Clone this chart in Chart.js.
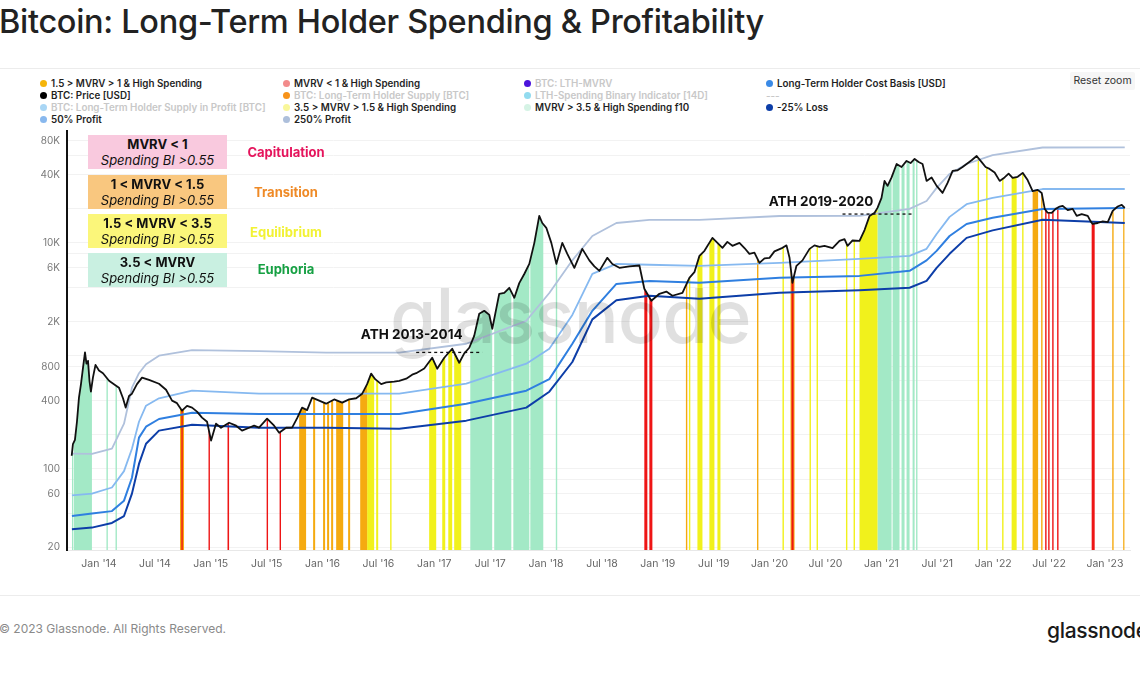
<!DOCTYPE html>
<html>
<head>
<meta charset="utf-8">
<title>Bitcoin: Long-Term Holder Spending & Profitability</title>
<script src="https://cdn.jsdelivr.net/npm/chart.js@4.4.1/dist/chart.umd.min.js"></script>
<style>
  body { margin: 0; background: #fff; font-family: Inter, "Noto Sans", sans-serif; }
  #page { position: relative; width: 1140px; height: 676px; overflow: hidden; background: #fff; }
  #title { position: absolute; left: -1px; top: 2px; font-size: 32.5px; font-weight: 500; color: #222; white-space: nowrap; letter-spacing: -0.3px; }
  .rule { position: absolute; left: 0; width: 1140px; height: 1px; background: #ececec; }
  .lg { position: absolute; font-size: 9.8px; font-weight: 600; color: #1f1f1f; white-space: nowrap; line-height: 12px; }
  .lg i { display: inline-block; width: 7px; height: 7px; border-radius: 50%; margin-right: 4px; }
  .lg.off { color: #c8c8c8; }
  #reset { position: absolute; left: 1070px; top: 72px; width: 65px; height: 18px; line-height: 18px; background: #f6f6f6; border-radius: 2px; font-size: 10.5px; color: #333; text-align: center; }
  #wrap { position: absolute; left: 0; top: 118px; }
  .box { position: absolute; left: 88px; width: 139px; height: 34px; text-align: center; color: #111; font-size: 13px; line-height: 16px; padding-top: 1px; box-sizing: border-box; }
  .box b { display: block; font-weight: 700; }
  .box em { display: block; font-style: italic; font-weight: 400; }
  .phase { position: absolute; left: 226px; width: 120px; text-align: center; font-size: 13px; font-weight: 700; line-height: 16px; }
  #mark { position: absolute; left: 390px; top: 270px; font-size: 75px; font-weight: 500; color: rgba(0,0,0,0.12); letter-spacing: -1px; pointer-events: none; }
  #copy { position: absolute; left: -1px; top: 621px; font-size: 12px; color: #8a8a8a; }
  #logo { position: absolute; left: 1047px; top: 618px; font-size: 21px; color: #1a1a1a; font-weight: 500; letter-spacing: -0.3px; }
</style>
</head>
<body>
<div id="page">
  <div id="title">Bitcoin: Long-Term Holder Spending &amp; Profitability</div>
  <div class="rule" style="top:68px"></div>
  <div id="legend"></div>
  <div id="reset">Reset zoom</div>
  <div id="wrap"><canvas id="chart" width="1140" height="460"></canvas></div>

  <div class="box" style="top:135px;background:#f9c9de"><b>MVRV &lt; 1</b><em>Spending BI &gt;0.55</em></div>
  <div class="box" style="top:175px;background:#f9c77f"><b>1 &lt; MVRV &lt; 1.5</b><em>Spending BI &gt;0.55</em></div>
  <div class="box" style="top:214px;background:#fbf67a"><b>1.5 &lt; MVRV &lt; 3.5</b><em>Spending BI &gt;0.55</em></div>
  <div class="box" style="top:253px;background:#c9f0e1"><b>3.5 &lt; MVRV</b><em>Spending BI &gt;0.55</em></div>
  <div class="phase" style="top:144px;color:#e5145c">Capitulation</div>
  <div class="phase" style="top:184px;color:#ef8a26">Transition</div>
  <div class="phase" style="top:224px;color:#f2f234">Equilibrium</div>
  <div class="phase" style="top:261px;color:#16a043">Euphoria</div>

  <div id="mark">glassnode</div>
  <div class="rule" style="top:595px"></div>
  <div id="copy">© 2023 Glassnode. All Rights Reserved.</div>
  <div id="logo">glassnode</div>
</div>
<script>
// ---- legend ----
const legendNames = [
  '1.5 > MVRV > 1 & High Spending', 'MVRV < 1 & High Spending', 'BTC: LTH-MVRV', 'Long-Term Holder Cost Basis [USD]',
  'BTC: Price [USD]', 'BTC: Long-Term Holder Supply [BTC]', 'LTH-Spending Binary Indicator [14D]', '---',
  'BTC: Long-Term Holder Supply in Profit [BTC]', '3.5 > MVRV > 1.5 & High Spending', 'MVRV > 3.5 & High Spending f10', '-25% Loss',
  '50% Profit', '250% Profit'
];
const legendColors = [
  '#f5b50a', '#f28b8b', '#4b14dc', '#3a8ae6',
  '#000000', '#f7931a', '#92dbef', null,
  '#a9d6f5', '#f9f79a', '#d5f3e5', '#0d3ea8',
  '#88b8ee', '#adbfdb'
];
const legendOn = [
  true, true, false, true,
  true, false, false, false,
  false, true, true, true,
  true, true
];

// ---- x axis (decimal years) ----
const tickYears = [2014, 2014.5, 2015, 2015.5, 2016, 2016.5, 2017, 2017.5, 2018, 2018.5,
  2019, 2019.5, 2020, 2020.5, 2021, 2021.5, 2022, 2022.5, 2023];
const tickLabels = ["Jan '14", "Jul '14", "Jan '15", "Jul '15", "Jan '16", "Jul '16", "Jan '17", "Jul '17",
  "Jan '18", "Jul '18", "Jan '19", "Jul '19", "Jan '20", "Jul '20", "Jan '21", "Jul '21", "Jan '22", "Jul '22", "Jan '23"];

// ---- y axis (log) ----
const yGrid = [20, 40, 60, 80, 100, 200, 400, 600, 800, 1000, 2000, 4000, 6000, 8000, 10000, 20000, 40000, 60000, 80000];
const yTickValues = [20, 60, 100, 400, 800, 2000, 6000, 10000, 40000, 80000];
const yTickLabels = ['20', '60', '100', '400', '800', '2K', '6K', '10K', '40K', '80K'];

// ---- BTC price ----
const priceT = [2013.756, 2013.767, 2013.785, 2013.803, 2013.821, 2013.839, 2013.857, 2013.875, 2013.888, 2013.902,
  2013.915, 2013.928, 2013.946, 2013.969, 2014.000, 2014.036, 2014.090, 2014.134, 2014.179, 2014.215,
  2014.239, 2014.269, 2014.295, 2014.340, 2014.385, 2014.448, 2014.537, 2014.600, 2014.654, 2014.698,
  2014.743, 2014.788, 2014.833, 2014.877, 2014.922, 2014.967, 2015.003, 2015.047, 2015.092, 2015.164,
  2015.227, 2015.280, 2015.343, 2015.388, 2015.432, 2015.504, 2015.567, 2015.612, 2015.674, 2015.728,
  2015.773, 2015.817, 2015.862, 2015.907, 2015.970, 2016.032, 2016.104, 2016.176, 2016.238, 2016.301,
  2016.355, 2016.399, 2016.435, 2016.471, 2016.525, 2016.570, 2016.641, 2016.686, 2016.749, 2016.802,
  2016.838, 2016.910, 2016.981, 2017.026, 2017.089, 2017.160, 2017.223, 2017.268, 2017.313, 2017.357,
  2017.402, 2017.447, 2017.492, 2017.519, 2017.554, 2017.581, 2017.626, 2017.671, 2017.716, 2017.760,
  2017.805, 2017.850, 2017.895, 2017.939, 2017.966, 2018.002, 2018.047, 2018.092, 2018.145, 2018.190,
  2018.253, 2018.324, 2018.387, 2018.432, 2018.477, 2018.548, 2018.593, 2018.656, 2018.745, 2018.835,
  2018.879, 2018.942, 2019.014, 2019.076, 2019.130, 2019.220, 2019.282, 2019.327, 2019.372, 2019.417,
  2019.488, 2019.533, 2019.578, 2019.622, 2019.667, 2019.730, 2019.775, 2019.819, 2019.864, 2019.909,
  2019.954, 2019.999, 2020.043, 2020.115, 2020.151, 2020.178, 2020.204, 2020.240, 2020.294, 2020.357,
  2020.401, 2020.446, 2020.491, 2020.563, 2020.625, 2020.670, 2020.697, 2020.742, 2020.804, 2020.849,
  2020.894, 2020.939, 2020.965, 2021.001, 2021.028, 2021.055, 2021.091, 2021.136, 2021.180, 2021.225,
  2021.261, 2021.297, 2021.333, 2021.368, 2021.404, 2021.449, 2021.494, 2021.547, 2021.592, 2021.637,
  2021.682, 2021.726, 2021.762, 2021.807, 2021.852, 2021.897, 2021.932, 2021.968, 2022.013, 2022.058,
  2022.102, 2022.138, 2022.174, 2022.219, 2022.264, 2022.308, 2022.353, 2022.398, 2022.434, 2022.461,
  2022.487, 2022.523, 2022.559, 2022.595, 2022.622, 2022.667, 2022.711, 2022.747, 2022.792, 2022.846,
  2022.872, 2022.890, 2022.935, 2022.980, 2023.025, 2023.069, 2023.114, 2023.150, 2023.177];
const priceUsd = [130, 165, 180, 260, 425, 560, 780, 1070, 850, 900,
  600, 480, 640, 830, 740, 700, 600, 560, 521, 420,
  347, 440, 461, 560, 640, 610, 565, 500, 400, 380,
  326, 360, 347, 320, 283, 260, 177, 250, 230, 255,
  240, 217, 230, 240, 231, 277, 240, 208, 230, 231,
  280, 347, 330, 425, 400, 376, 410, 384, 410, 420,
  461, 560, 694, 620, 560, 580, 590, 600, 626, 680,
  700, 770, 960, 767, 960, 1153, 867, 1050, 1177, 1500,
  2355, 2500, 2300, 1735, 2600, 3540, 3600, 4000, 3260, 4400,
  5300, 6510, 10000, 17340, 15000, 13600, 10000, 6510, 10000, 8000,
  6010, 8850, 7000, 6200, 5650, 7370, 6500, 6010, 6200, 6300,
  3920, 3070, 3540, 3700, 3400, 3610, 4900, 5500, 7670, 8500,
  11070, 10000, 9040, 10200, 9420, 10000, 9000, 8000, 8200, 6650,
  7300, 7370, 8400, 9040, 9500, 7370, 4430, 6260, 7000, 8850,
  9500, 9200, 9400, 9000, 10420, 10800, 9420, 10500, 10420, 13000,
  17340, 18500, 20420, 25000, 35400, 32000, 38000, 50000, 47000, 53200,
  51000, 55400, 52000, 50000, 35400, 38000, 32000, 27700, 34000, 43400,
  44000, 47000, 50000, 54000, 58900, 52000, 47000, 45200, 42000, 35400,
  38000, 41000, 37600, 38500, 41700, 36000, 28800, 29500, 27700, 20000,
  18500, 18460, 20000, 21000, 21300, 19500, 20000, 17340, 18000, 17340,
  15500, 14700, 15000, 15500, 15300, 19200, 21000, 21700, 20400];

// ---- LTH cost basis bands ----
const bandT = [2013.758, 2013.937, 2014.116, 2014.224, 2014.295, 2014.358, 2014.421, 2014.537, 2014.833, 2015.432,
  2016.032, 2016.686, 2017.286, 2017.823, 2018.029, 2018.235, 2018.414, 2018.629, 2018.924, 2019.372,
  2020.088, 2020.804, 2021.252, 2021.404, 2021.494, 2021.610, 2021.762, 2021.995, 2022.442, 2023.177];
const profit250 = [136, 135, 150, 250, 521, 700, 840, 1000, 1120, 1100,
  1065, 1065, 1277, 2040, 3600, 7000, 11500, 15000, 16000, 16000,
  17300, 17340, 20000, 23500, 30700, 40800, 50000, 60000, 70000, 70300];
const profit50 = [58, 60, 68, 95, 150, 260, 361, 420, 490, 461,
  461, 461, 565, 850, 1153, 2300, 5320, 6510, 6400, 6260,
  6650, 7200, 7670, 8850, 12000, 17000, 22000, 25000, 30000, 30000];
const costBasis = [38, 40, 42, 52, 83, 188, 235, 275, 313, 305,
  305, 305, 376, 490, 620, 1277, 2500, 4330, 4600, 4430,
  4900, 5100, 5650, 7000, 8490, 11500, 14700, 16700, 20000, 20400];
const loss25 = [29, 30, 33, 38, 60, 110, 166, 217, 245, 230,
  230, 226, 266, 347, 480, 880, 2100, 3100, 3400, 3200,
  3610, 3800, 4000, 4600, 6010, 8000, 11070, 12900, 16000, 15000];

// ---- high spending periods [start, end] by MVRV regime ----
const euphoriaSpans = [[2013.758, 2013.767], [2013.776, 2013.937], [2014.067, 2014.076], [2014.148, 2014.157],
  [2017.322, 2017.518], [2017.536, 2017.689], [2017.707, 2017.850], [2017.859, 2017.975], [2018.087, 2018.096],
  [2020.965, 2021.091], [2021.100, 2021.162], [2021.180, 2021.207], [2021.225, 2021.252], [2021.279, 2021.297],
  [2021.310, 2021.319]];
const equilibriumSpans = [[2016.399, 2016.462], [2016.480, 2016.498], [2016.605, 2016.614], [2016.954, 2017.017],
  [2017.071, 2017.098], [2017.125, 2017.160], [2017.178, 2017.241], [2019.278, 2019.287], [2019.354, 2019.399],
  [2019.461, 2019.506], [2019.533, 2019.560], [2020.115, 2020.124], [2020.357, 2020.366], [2020.420, 2020.429],
  [2020.683, 2020.692], [2020.751, 2020.760], [2020.804, 2020.965], [2021.861, 2021.870], [2021.937, 2021.946],
  [2022.080, 2022.089], [2022.165, 2022.210], [2022.259, 2022.268]];
const transitionSpans = [[2014.725, 2014.761], [2015.791, 2015.853], [2015.916, 2015.934], [2016.005, 2016.023],
  [2016.041, 2016.059], [2016.077, 2016.095], [2016.122, 2016.185], [2016.229, 2016.247], [2016.337, 2016.399],
  [2019.251, 2019.260], [2019.887, 2019.896], [2020.187, 2020.223], [2022.353, 2022.402], [2022.429, 2022.438],
  [2023.065, 2023.074], [2023.163, 2023.172]];
const capitulationSpans = [[2014.737, 2014.749], [2014.980, 2014.989], [2015.150, 2015.164], [2015.500, 2015.509],
  [2015.616, 2015.625], [2018.879, 2018.906], [2018.924, 2018.951], [2020.196, 2020.214], [2022.465, 2022.474],
  [2022.492, 2022.501], [2022.528, 2022.537], [2022.572, 2022.581], [2022.881, 2022.908]];

// ---- previous ATH marks ----
const athLabels = ['ATH 2013-2014', 'ATH 2019-2020'];
const athLevels = [1070, 18000];
const athStart = [2016.838, 2020.652];
const athEnd = [2017.429, 2021.279];
const athLabelAt = [2016.798, 2020.460];


// build the legend
const legend = document.getElementById('legend');
const colX = [40, 283, 524, 766];
legendNames.forEach((name, i) => {
  const el = document.createElement('div');
  el.className = 'lg' + (legendOn[i] ? '' : ' off');
  el.style.left = colX[i % 4] + 'px';
  el.style.top = (78 + Math.floor(i / 4) * 12) + 'px';
  if (legendColors[i]) {
    const dot = document.createElement('i');
    dot.style.background = legendColors[i];
    el.appendChild(dot);
  }
  el.appendChild(document.createTextNode(name));
  legend.appendChild(el);
});

const pts = (xs, ys) => xs.map((x, i) => ({ x: x, y: ys[i] }));

// signal columns: drawn from the bottom up to the price line
const signalGroups = [
  { color: '#a3e9c6', spans: euphoriaSpans },
  { color: '#f1f11c', spans: equilibriumSpans },
  { color: '#f5aa10', spans: transitionSpans },
  { color: '#ee1515', spans: capitulationSpans }
];

const signalPlugin = {
  id: 'signals',
  beforeDatasetsDraw(chart) {
    const { ctx, chartArea: a, scales: { x } } = chart;
    const p = chart.getDatasetMeta(0).data;
    ctx.save();
    ctx.beginPath();
    ctx.moveTo(p[0].x, a.bottom);
    p.forEach(pt => ctx.lineTo(pt.x, pt.y));
    ctx.lineTo(p[p.length - 1].x, a.bottom);
    ctx.closePath();
    ctx.clip();
    signalGroups.forEach(g => {
      ctx.fillStyle = g.color;
      g.spans.forEach(s => {
        const x0 = x.getPixelForValue(s[0]);
        const x1 = x.getPixelForValue(s[1]);
        ctx.fillRect(x0, a.top, Math.max(x1 - x0, 1.4), a.bottom - a.top);
      });
    });
    ctx.restore();
  }
};

const athDy = [-17, -12];
const athPlugin = {
  id: 'athText',
  afterDatasetsDraw(chart) {
    const { ctx, scales: { x, y } } = chart;
    ctx.save();
    ctx.font = '700 13.5px Inter, sans-serif';
    ctx.fillStyle = '#111';
    ctx.textAlign = 'center';
    ctx.textBaseline = 'middle';
    athLabels.forEach((t, i) => {
      ctx.fillText(t, x.getPixelForValue(athLabelAt[i]), y.getPixelForValue(athLevels[i]) + athDy[i]);
    });
    ctx.restore();
  }
};

const line = (label, data, color, width) => ({
  label: label, data: data, borderColor: color, borderWidth: width,
  pointRadius: 0, tension: 0, fill: false, borderJoinStyle: 'round'
});

const athSets = athLabels.map((l, i) => Object.assign(
  line(l, [{ x: athStart[i], y: athLevels[i] }, { x: athEnd[i], y: athLevels[i] }], '#111', 1.3),
  { borderDash: [3, 3] }));

Chart.defaults.font.family = 'Inter, "Noto Sans", sans-serif';

new Chart(document.getElementById('chart').getContext('2d'), {
  type: 'line',
  data: {
    datasets: [
      line('BTC: Price [USD]', pts(priceT, priceUsd), '#111111', 1.8),
      athSets[0],
      athSets[1],
      line('-25% Loss', pts(bandT, loss25), '#0d3ea8', 2),
      line('Long-Term Holder Cost Basis [USD]', pts(bandT, costBasis), '#2f7fe0', 2),
      line('50% Profit', pts(bandT, profit50), '#86b9f0', 1.8),
      line('250% Profit', pts(bandT, profit250), '#b0c1dc', 1.8)
    ]
  },
  options: {
    responsive: false,
    animation: false,
    devicePixelRatio: 1,
    layout: { padding: { top: 4, right: 10, left: 0, bottom: 0 } },
    plugins: { legend: { display: false }, tooltip: { enabled: false } },
    scales: {
      x: {
        type: 'linear',
        min: 2013.714,
        max: 2023.224,
        afterBuildTicks: s => { s.ticks = tickYears.map(v => ({ value: v })); },
        afterFit: s => { s.height = 28; },
        ticks: {
          autoSkip: false, maxRotation: 0, minRotation: 0, padding: 8,
          color: '#666', font: { size: 10.5 },
          callback: (v, i) => tickLabels[i]
        },
        grid: { display: false, drawTicks: false },
        border: { display: true, color: '#e8e8e8', width: 1 }
      },
      y: {
        type: 'logarithmic',
        min: 19,
        max: 98000,
        afterBuildTicks: s => { s.ticks = yGrid.map(v => ({ value: v })); },
        afterFit: s => { s.width = 67; },
        ticks: {
          autoSkip: false, padding: 7, color: '#7a7a7a', font: { size: 10 },
          callback: v => { const i = yTickValues.indexOf(v); return i >= 0 ? yTickLabels[i] : ''; }
        },
        grid: { color: '#f2f2f2', drawTicks: false },
        border: { display: true, color: '#111', width: 2 }
      }
    }
  },
  plugins: [signalPlugin, athPlugin]
});
</script>
</body>
</html>
